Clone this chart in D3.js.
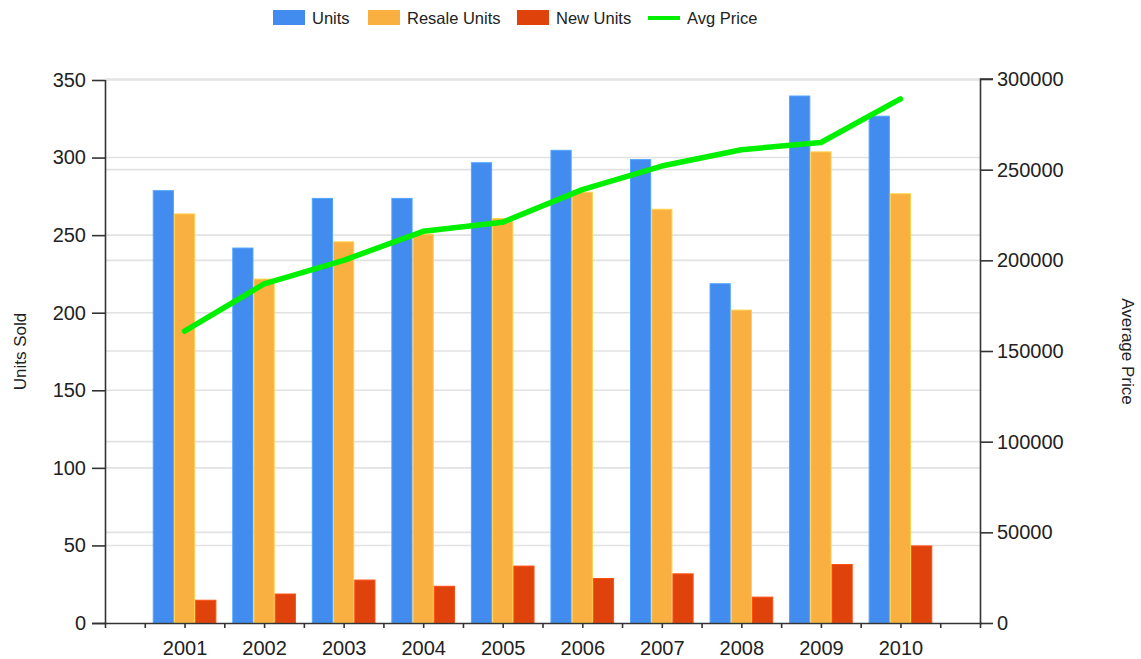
<!DOCTYPE html>
<html>
<head>
<meta charset="utf-8">
<script src="https://cdn.jsdelivr.net/npm/d3@7"></script>
<style>
  body { margin: 0; background: #fff; }
  svg { display: block; font-family: "Liberation Sans", Arial, sans-serif; }
</style>
</head>
<body>
<div class="container"></div>
<script>
const years = [2001, 2002, 2003, 2004, 2005, 2006, 2007, 2008, 2009, 2010];
const units = [279, 242, 274, 274, 297, 305, 299, 219, 340, 327];
const resaleUnits = [264, 222, 246, 251, 261, 278, 267, 202, 304, 277];
const newUnits = [15, 19, 28, 24, 37, 29, 32, 17, 38, 50];
const avgPrice = [161000, 187000, 200000, 216000, 221000, 239000, 252000, 261000, 265000, 289000];

const leftTicks = [0, 50, 100, 150, 200, 250, 300, 350];
const rightTicks = [0, 50000, 100000, 150000, 200000, 250000, 300000];

const seriesNames = ['Units', 'Resale Units', 'New Units'];
const seriesColors = ['#428bef', '#fab040', '#e0420b'];
const lineColor = '#00f000';

const w = 1141;
const h = 659;

const margin = {
    top: 80,
    right: 161,
    bottom: 36,
    left: 105
}

const svg = d3.select('.container')
    .append('svg')
    .attr('width', w)
    .attr('height', h)
    .attr('viewBox', [0, 0, w, h]);

const x = d3.scaleLinear()
    .domain([2000, 2011])
    .range([margin.left, w - margin.right]);
const step = x(2001) - x(2000);

const inner = d3.scaleBand()
    .domain(seriesNames)
    .range([-step * 0.4, step * 0.4]);

const yLeft = d3.scaleLinear()
    .domain([0, 350])
    .range([h - margin.bottom, margin.top]);
const yRight = d3.scaleLinear()
    .domain([0, 300000])
    .range([h - margin.bottom, margin.top - 1]);

// gridlines from both axes
const grid = svg.append('g')
    .attr('stroke', '#e2e2e2')
    .attr('stroke-width', 1.6);
grid.selectAll('.gl')
    .data(leftTicks.slice(1))
    .join('line')
    .attr('x1', margin.left).attr('x2', w - margin.right)
    .attr('y1', d => yLeft(d)).attr('y2', d => yLeft(d));
grid.selectAll('.gr')
    .data(rightTicks.slice(1))
    .join('line')
    .attr('class', 'gr')
    .attr('x1', margin.left).attr('x2', w - margin.right)
    .attr('y1', d => yRight(d)).attr('y2', d => yRight(d));

// bars
const seriesData = [units, resaleUnits, newUnits];
seriesData.forEach((vals, si) => {
    const c = seriesColors[si];
    svg.append('g')
        .selectAll('rect')
        .data(vals)
        .join('rect')
        .attr('x', (d, i) => x(years[i]) + inner(seriesNames[si]) + 0.5)
        .attr('y', d => yLeft(d) + 0.5)
        .attr('width', inner.bandwidth() - 1)
        .attr('height', d => yLeft(0) - yLeft(d) - 0.5)
        .attr('fill', c)
        .attr('stroke', d3.color(c).brighter(0.5))
        .attr('stroke-width', 1);
});

// avg price line
const line = d3.line()
    .x((d, i) => x(years[i]))
    .y(d => yRight(d));
svg.append('path')
    .datum(avgPrice)
    .attr('fill', 'none')
    .attr('stroke', lineColor)
    .attr('stroke-width', 5.5)
    .attr('stroke-linejoin', 'round')
    .attr('stroke-linecap', 'round')
    .attr('d', line);

// axes
const axisColor = '#333';
const leftAxis = svg.append('g')
    .attr('transform', `translate(${margin.left},0)`)
    .call(d3.axisLeft(yLeft).tickValues(leftTicks).tickSize(13).tickPadding(6));
const rightAxis = svg.append('g')
    .attr('transform', `translate(${w - margin.right},0)`)
    .call(d3.axisRight(yRight).tickValues(rightTicks).tickSize(13).tickPadding(4).tickFormat(d3.format('d')));
const bottomAxis = svg.append('g')
    .attr('transform', `translate(0,${h - margin.bottom})`)
    .call(d3.axisBottom(x).tickValues(d3.range(2000, 2011.01, 0.5)).tickSize(5).tickPadding(10)
        .tickFormat(d => (Number.isInteger(d) && d >= 2001 && d <= 2010) ? d : ''));

[leftAxis, rightAxis, bottomAxis].forEach(g => {
    g.select('.domain').attr('stroke', axisColor).attr('stroke-width', 1.6);
    g.selectAll('.tick line').attr('stroke', axisColor).attr('stroke-width', 1.6);
    g.selectAll('.tick text')
        .attr('fill', '#222')
        .style('font-size', '20px')
        .style('font-family', '"Liberation Sans", Arial, sans-serif');
});
bottomAxis.select('.domain').attr('d', `M${margin.left - 13},0.5H${w - margin.right + 2}`);
leftAxis.select('.domain').attr('d', `M0.5,${yLeft(0)}V${yLeft(350)}`);
rightAxis.select('.domain').attr('d', `M0.5,${yRight(0)}V${yRight(300000)}H13`);
bottomAxis.selectAll('.tick text').attr('dy', '0.85em');

// axis titles
svg.append('text')
    .attr('transform', `translate(26, ${(yLeft(0) + yLeft(350)) / 2}) rotate(-90)`)
    .attr('text-anchor', 'middle')
    .attr('fill', '#222')
    .style('font-size', '17px')
    .text('Units Sold');
svg.append('text')
    .attr('transform', `translate(1122, ${(yLeft(0) + yLeft(350)) / 2}) rotate(90)`)
    .attr('text-anchor', 'middle')
    .attr('fill', '#222')
    .style('font-size', '17px')
    .text('Average Price');

// legend
const legendItems = [
    { name: 'Units', color: seriesColors[0], x: 273, type: 'rect' },
    { name: 'Resale Units', color: seriesColors[1], x: 368, type: 'rect' },
    { name: 'New Units', color: seriesColors[2], x: 517, type: 'rect' },
    { name: 'Avg Price', color: lineColor, x: 648, type: 'line' }
];
const legend = svg.append('g');
legendItems.forEach(item => {
    const g = legend.append('g').attr('transform', `translate(${item.x},0)`);
    if (item.type === 'rect') {
        g.append('rect')
            .attr('x', 0).attr('y', 10)
            .attr('width', 32).attr('height', 15)
            .attr('fill', item.color);
    } else {
        g.append('line')
            .attr('x1', 0).attr('x2', 32)
            .attr('y1', 18).attr('y2', 18)
            .attr('stroke', item.color)
            .attr('stroke-width', 4);
    }
    g.append('text')
        .attr('x', 39).attr('y', 24)
        .attr('fill', '#222')
        .style('font-size', '16.5px')
        .text(item.name);
});
</script>
</body>
</html>
